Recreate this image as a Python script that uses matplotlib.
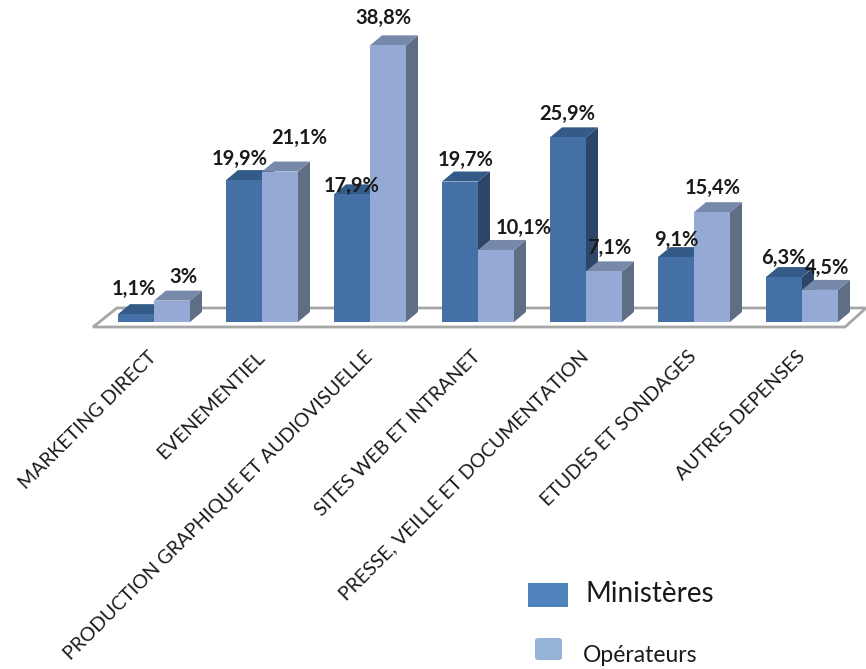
import matplotlib
matplotlib.use("Agg")
import matplotlib.pyplot as plt
from matplotlib.patches import Polygon, Rectangle, FancyBboxPatch

plt.rcParams['font.family'] = ['Lato', 'DejaVu Sans']

categories = ["MARKETING DIRECT", "EVENEMENTIEL", "PRODUCTION GRAPHIQUE ET AUDIOVISUELLE",
              "SITES WEB ET INTRANET", "PRESSE, VEILLE ET DOCUMENTATION",
              "ETUDES ET SONDAGES", "AUTRES DEPENSES"]
ministeres = [1.1, 19.9, 17.9, 19.7, 25.9, 9.1, 6.3]
operateurs = [3.0, 21.1, 38.8, 10.1, 7.1, 15.4, 4.5]
series_names = ["Ministères", "Opérateurs"]

# label nudges in pixels (x, y above the back edge of the bar top)
off_min = [(-8, 15), (-10, 11), (-6, -2), (0, 12), (-7, 13), (-6, 7), (-7, 9)]
off_ope = [(5, 14), (13, 24), (-11, 17), (22, 12), (-1, 13), (-5, 14), (1, 12)]

W, H = 866, 669
PX_CAT = 108.0      # pixels between groups
PX_PCT = 7.13       # pixels per percent
X0 = 154            # pixel x of first group centre
Y0 = 347            # pixel y (from bottom) of bar base
DX = 12 / PX_CAT    # depth offset
DY = 10 / PX_PCT
BW = 36 / PX_CAT

# front, top, side colours
c_min = ("#4470a6", "#345a87", "#2c4568")
c_ope = ("#94aad4", "#7689ab", "#5f6d85")

fig = plt.figure(figsize=(W / 100, H / 100), dpi=100)
ax = fig.add_axes([0, 0, 1, 1])
ax.set_xlim(-X0 / PX_CAT, (W - X0) / PX_CAT)
ax.set_ylim(-Y0 / PX_PCT, (H - Y0) / PX_PCT)
ax.axis("off")

# floor plate
n = len(categories)
floor = Polygon([(-61 / PX_CAT, -5 / PX_PCT), (691 / PX_CAT, -5 / PX_PCT),
                 (712 / PX_CAT, 14 / PX_PCT), (-37 / PX_CAT, 14 / PX_PCT)],
                closed=True, facecolor="white", edgecolor="#a6a6a6", lw=2, zorder=1)
ax.add_patch(floor)


def bar3d(x, v, cols, z):
    left = x - BW / 2
    right = x + BW / 2
    ax.bar(x, v, width=BW, color=cols[0], zorder=z + 2, linewidth=0)
    top = Polygon([(left, v), (right, v), (right + DX, v + DY), (left + DX, v + DY)],
                  closed=True, facecolor=cols[1], edgecolor="none", zorder=z + 1)
    side = Polygon([(right, 0), (right + DX, DY), (right + DX, v + DY), (right, v)],
                   closed=True, facecolor=cols[2], edgecolor="none", zorder=z)
    ax.add_patch(top)
    ax.add_patch(side)


def value_label(x, v, off):
    tx = x + DX / 2 + off[0] / PX_CAT
    ty = v + DY + off[1] / PX_PCT
    txt = ("%.1f" % v).replace(".", ",") + "%"
    if v == int(v):
        txt = "%d%%" % v
    ax.text(tx, ty, txt, ha="center", va="center", fontsize=14.5,
            fontweight="bold", color="#1a1a1a", zorder=100)


for i in range(n):
    xm = i - BW / 2
    xo = i + BW / 2
    bar3d(xm, ministeres[i], c_min, 3 + 6 * i)
    bar3d(xo, operateurs[i], c_ope, 6 + 6 * i)
    value_label(xm, ministeres[i], off_min[i])
    value_label(xo, operateurs[i], off_ope[i])
    ax.text(i + 0.0, -32 / PX_PCT, categories[i], rotation=45, rotation_mode="anchor",
            ha="right", va="center", fontsize=14, color="#1a1a1a")

# legend
fig.patches.append(Rectangle((528 / W, 1 - 607 / H), 40 / W, 24 / H,
                             transform=fig.transFigure, facecolor="#4f81bd",
                             edgecolor="none"))
fig.patches.append(FancyBboxPatch((535 / W, 1 - 660 / H), 27 / W, 22 / H,
                                  boxstyle="round,pad=0,rounding_size=0.004",
                                  transform=fig.transFigure, facecolor="#95b3d7",
                                  edgecolor="none"))
fig.text(585 / W, 1 - 594 / H, series_names[0], fontsize=20, va="center", color="#1a1a1a")
fig.text(583 / W, 1 - 656 / H, series_names[1], fontsize=16.5, va="center", color="#1a1a1a")

fig.savefig("out.png", dpi=100)
